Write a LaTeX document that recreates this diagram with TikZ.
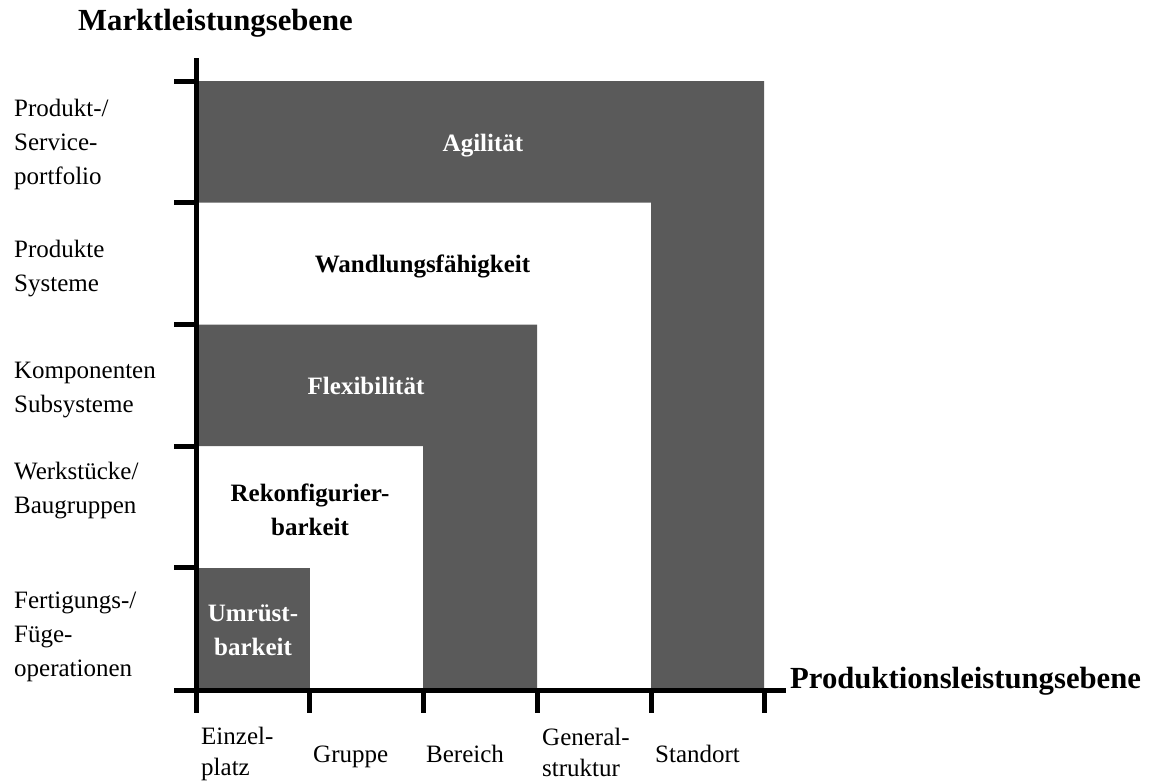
\documentclass[tikz,border=0pt]{standalone}
\usepackage{fontspec}
\setmainfont{Liberation Serif}
\definecolor{areagray}{RGB}{90,90,90}
\begin{document}
\begin{tikzpicture}[x=1pt,y=-1pt,
  axis/.style={line width=5pt, black},
  area/.style={fill=areagray, draw=none},
  levellabel/.style={font=\fontsize{25}{34}\selectfont, align=left, anchor=base west, inner sep=0pt},
  unitlabel/.style={font=\fontsize{25}{31}\selectfont, align=left, anchor=base west, inner sep=0pt},
  areatitle/.style={font=\fontsize{25}{34}\selectfont\bfseries, align=center, anchor=base, inner sep=0pt},
  axistitle/.style={font=\fontsize{30.7}{36}\selectfont\bfseries, anchor=base west, inner sep=0pt}]
\useasboundingbox (0,0) rectangle (1149,782);

% nested capability areas
\fill[area] (196.5,81) -- (764,81) -- (764,690) -- (651,690) -- (651,202.5) -- (196.5,202.5) -- cycle;
\fill[area] (196.5,324.5) -- (537,324.5) -- (537,690) -- (423,690) -- (423,446) -- (196.5,446) -- cycle;
\fill[area] (196.5,567.5) rectangle (309.5,690);

% axes with ticks
\coordinate (ytop) at (196.5,58);
\coordinate (ybot) at (196.5,713);
\coordinate (xleft) at (174,690);
\coordinate (xright) at (786,690);
\draw[axis] (ytop) -- (ybot);
\draw[axis] (xleft) -- (xright);
\foreach \y in {81,202.5,324.5,446,567.5}
  \draw[axis] (174,\y) -- (196.5,\y);
\foreach \x in {309.5,423,537,651,764}
  \draw[axis] (\x,690) -- (\x,713);

% market levels (anchored at the baseline of the last line)
\node[levellabel] (l5) at (14,184) {Produkt-/\\Service-\\portfolio};
\node[levellabel] (l4) at (14,291) {Produkte\\Systeme};
\node[levellabel] (l3) at (14,412) {Komponenten\\Subsysteme};
\node[levellabel] (l2) at (14,513) {Werkstücke/\\Baugruppen};
\node[levellabel] (l1) at (14,676) {Fertigungs-/\\Füge-\\operationen};

% production levels
\node[unitlabel] (u1) at (201,775.5) {Einzel-\\platz};
\node[unitlabel] (u2) at (313,762) {Gruppe};
\node[unitlabel] (u3) at (426,762) {Bereich};
\node[unitlabel] (u4) at (542,776) {General-\\struktur};
\node[unitlabel] (u5) at (655,762) {Standort};

% area names
\node[areatitle, text=white] (agil) at (483,151) {Agilität};
\node[areatitle] (wand) at (422.5,272) {Wandlungsfähigkeit};
\node[areatitle, text=white] (flex) at (366,394) {Flexibilität};
\node[areatitle] (rekon) at (310,535) {Rekonfigurier-\\barkeit};
\node[areatitle, text=white] (umr) at (253,655) {Umrüst-\\barkeit};

% axis titles
\node[axistitle] (mtitle) at (78,30) {Marktleistungsebene};
\node[axistitle] (ptitle) at (790,688) {Produktionsleistungsebene};
\end{tikzpicture}
\end{document}
